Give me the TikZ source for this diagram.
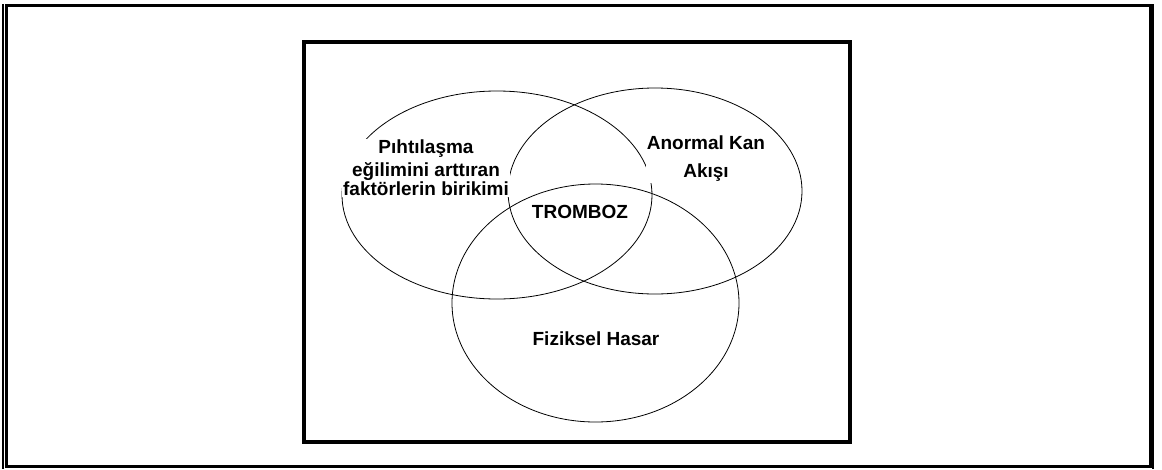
\documentclass[tikz,border=0pt]{standalone}
\usepackage{fontspec}
\setmainfont{Liberation Sans}
\usepackage{tikz}

\begin{document}
\begin{tikzpicture}[x=1pt, y=-1pt, line width=0.8pt,
    venntext/.style={fill=white, inner sep=1pt, align=center,
        font=\fontsize{19}{19}\selectfont\bfseries}]
    \useasboundingbox (0,0) rectangle (1162,469);
    % outer frame
    \draw[line width=3pt] (6,5.5) rectangle (1150,466.5);
    \draw[line width=2pt] (2.5,4) -- (2.5,469);
    \draw[line width=2pt] (1153,4) -- (1153,469);
    % inner box
    \draw[line width=4pt] (304,42) rectangle (849.5,441.5);
    % the three sets
    \coordinate (pihti) at (497,195);
    \coordinate (akis) at (655,191);
    \coordinate (hasar) at (595.5,303);
    \draw (pihti) ellipse [x radius=155pt, y radius=104pt];
    \draw (akis) ellipse [x radius=147pt, y radius=103pt];
    \draw (hasar) ellipse [x radius=143.5pt, y radius=119pt];
    % labels
    \node[venntext] (pihtitext) at (426,168) {Pıhtılaşma\\[4pt] eğilimini arttıran\\ faktörlerin birikimi};
    \node[venntext] (akistext) at (706,159) {Anormal Kan\\[9pt] Akışı};
    \node[venntext] (tromboz) at (580,212) {TROMBOZ};
    \node[venntext] (hasartext) at (596,339) {Fiziksel Hasar};
\end{tikzpicture}
\end{document}
